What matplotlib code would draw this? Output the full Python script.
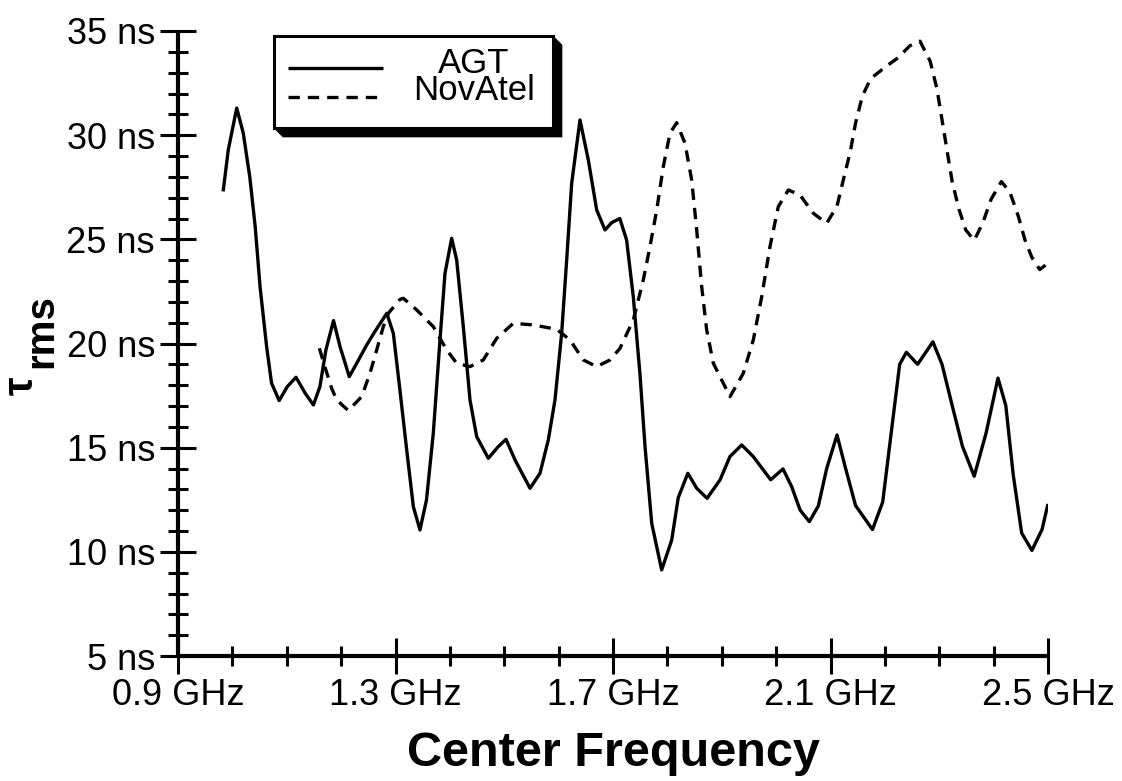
import matplotlib
matplotlib.use("Agg")
import matplotlib.pyplot as plt
from matplotlib.ticker import MultipleLocator, FixedLocator, FixedFormatter
from matplotlib.patches import Polygon, Rectangle
from matplotlib.lines import Line2D

plt.rcParams['font.family'] = ['Liberation Sans', 'DejaVu Sans']

# RMS delay spread versus center frequency
agt_freq = [0.983, 0.9925, 1.008, 1.020, 1.032, 1.042, 1.051, 1.063, 1.072, 1.086,
            1.101, 1.117, 1.134, 1.149, 1.161, 1.172, 1.186, 1.198, 1.215, 1.232,
            1.247, 1.262, 1.284, 1.296, 1.308, 1.3206, 1.3328, 1.345, 1.357, 1.3695,
            1.3818, 1.391, 1.4033, 1.4125, 1.4247, 1.437, 1.4493, 1.4707, 1.489, 1.5032,
            1.5198, 1.5474, 1.5657, 1.581, 1.5933, 1.6056, 1.6148, 1.624, 1.6393, 1.6546,
            1.67, 1.6853, 1.6975, 1.7125, 1.725, 1.7373, 1.7497, 1.7589, 1.7712, 1.7895,
            1.808, 1.820, 1.8376, 1.854, 1.873, 1.8968, 1.915, 1.9367, 1.958, 1.99,
            2.0126, 2.0286, 2.044, 2.061, 2.0776, 2.093, 2.112, 2.1274, 2.1461, 2.1772,
            2.196, 2.2116, 2.2272, 2.2396, 2.2602, 2.2883, 2.3051, 2.3238, 2.3426, 2.3643,
            2.3861, 2.408, 2.4224, 2.436, 2.4516, 2.4704, 2.489, 2.500]
agt_trms = [27.3, 29.3, 31.3, 30.1, 28.0, 25.6, 22.7, 19.85, 18.1, 17.26,
            17.93, 18.38, 17.61, 17.05, 17.93, 19.69, 21.1, 19.85, 18.41, 19.21,
            19.93, 20.57, 21.45, 20.49, 17.8, 14.89, 12.17, 11.05, 12.49, 15.69,
            20.17, 23.37, 25.05, 24.01, 20.81, 17.29, 15.53, 14.49, 15.05, 15.40,
            14.41, 13.05, 13.77, 15.37, 17.29, 20.49, 24.01, 27.69, 30.73, 28.81,
            26.41, 25.45, 25.8, 26.0, 24.97, 22.25, 18.5, 15.05, 11.37, 9.13,
            10.57, 12.6, 13.77, 13.05, 12.57, 13.45, 14.57, 15.13, 14.57, 13.46,
            13.98, 13.13, 12.01, 11.45, 12.2, 14.0, 15.61, 14.04, 12.22, 11.07,
            12.39, 15.70, 19.0, 19.58, 19.0, 20.08, 19.0, 17.02, 15.07, 13.63,
            15.70, 18.34, 17.02, 13.71, 10.90, 10.07, 11.07, 12.3]

novatel_freq = [1.160, 1.170, 1.1826, 1.1918, 1.2132, 1.2378, 1.2531, 1.2654, 1.2776, 1.2868,
                1.3083, 1.3144, 1.339, 1.3695, 1.3942, 1.4125, 1.437, 1.4615, 1.4861, 1.5167,
                1.5535, 1.5965, 1.6209, 1.6454, 1.67, 1.6945, 1.7129, 1.7373, 1.7465, 1.7557,
                1.768, 1.7804, 1.7925, 1.8048, 1.8171, 1.8324, 1.8447, 1.8539, 1.8631, 1.8723,
                1.8845, 1.9152, 1.9396, 1.958, 1.9735, 1.9887, 2.004, 2.0224, 2.0439, 2.0684,
                2.093, 2.112, 2.1243, 2.1367, 2.146, 2.1587, 2.1741, 2.2022, 2.2241, 2.2459,
                2.2646, 2.2833, 2.2957, 2.3051, 2.3144, 2.3238, 2.3363, 2.3488, 2.3643, 2.3799,
                2.3955, 2.4143, 2.4298, 2.4454, 2.4579, 2.4704, 2.4848, 2.4952]
novatel_trms = [19.77, 18.89, 17.85, 17.29, 16.78, 17.45, 18.57, 19.69, 20.81, 21.45,
                22.12, 22.17, 21.61, 20.81, 19.69, 19.05, 18.89, 19.21, 20.25, 20.97,
                20.89, 20.68, 20.17, 19.21, 18.89, 19.21, 19.77, 21.13, 22.09, 23.05,
                24.65, 26.41, 28.49, 30.09, 30.60, 29.61, 27.85, 25.45, 22.73, 20.65,
                19.05, 17.45, 18.57, 20.17, 22.25, 24.65, 26.57, 27.37, 27.13, 26.25,
                25.77, 26.6, 27.93, 29.25, 30.57, 31.89, 32.72, 33.30, 33.71, 34.29,
                34.51, 33.55, 32.23, 30.74, 29.25, 27.77, 26.44, 25.45, 24.95, 25.78,
                26.93, 27.77, 27.27, 26.11, 24.95, 24.13, 23.55, 23.76]

freq_ticks = [0.9, 1.3, 1.7, 2.1, 2.5]
freq_labels = ['0.9 GHz', '1.3 GHz', '1.7 GHz', '2.1 GHz', '2.5 GHz']
trms_ticks = [5, 10, 15, 20, 25, 30, 35]
trms_labels = ['5 ns', '10 ns', '15 ns', '20 ns', '25 ns', '30 ns', '35 ns']
series_names = ['AGT', 'NovAtel']

W, H = 1122, 781
fig = plt.figure(figsize=(W / 100, H / 100), dpi=100)
ax = fig.add_axes([178 / W, 125 / H, 870 / W, 625 / H])


def fpos(x, y):
    """Pixel position (from top-left) to figure fraction."""
    return (x / W, 1 - y / H)


lw = 2.4
ax.plot(agt_freq, agt_trms, color='black', lw=lw, solid_joinstyle='round',
        solid_capstyle='butt', label=series_names[0])
dashed, = ax.plot(novatel_freq, novatel_trms, color='black', lw=lw,
                  dash_capstyle='butt', dash_joinstyle='round',
                  label=series_names[1])
dashed.set_dashes([3.4, 2.4])

ax.set_xlim(0.9, 2.5)
ax.set_ylim(5, 35)
for side in ('top', 'right'):
    ax.spines[side].set_visible(False)
for side in ('left', 'bottom'):
    ax.spines[side].set_linewidth(3.0)
    ax.spines[side].set_capstyle('butt')

ax.xaxis.set_major_locator(FixedLocator(freq_ticks))
ax.xaxis.set_major_formatter(FixedFormatter(freq_labels))
ax.xaxis.set_minor_locator(MultipleLocator(0.1))
ax.yaxis.set_major_locator(FixedLocator(trms_ticks))
ax.yaxis.set_major_formatter(FixedFormatter(trms_labels))
ax.yaxis.set_minor_locator(MultipleLocator(1))

ax.tick_params(which='major', direction='inout', length=26, width=2.2,
               labelsize=26, color='black')
ax.tick_params(which='minor', direction='inout', length=14.4, width=2.2)
ax.tick_params(axis='y', which='major', pad=3.6)
ax.tick_params(axis='x', which='major', pad=2.5)
for t in ax.get_xticklabels() + ax.get_yticklabels():
    t.set_clip_on(False)

ax.set_xlabel('Center Frequency', fontsize=35, fontweight='bold')
ax.xaxis.set_label_coords(0.5, -(731 - 656) / 625)

# y label: tau with subscript "rms"
fig.text(*fpos(33, 386), '\u03c4', fontsize=30, fontweight='bold', rotation=90,
         rotation_mode='anchor', ha='center', va='baseline')
fig.text(*fpos(52, 331), 'rms', fontsize=29, fontweight='bold', rotation=90,
         rotation_mode='anchor', ha='center', va='baseline')

# legend box with a bevelled drop shadow
shadow = Polygon([fpos(274, 128), fpos(283, 137), fpos(562, 137), fpos(562, 45),
                  fpos(553, 36), fpos(553, 128)], closed=True,
                 transform=fig.transFigure, facecolor='black', edgecolor='black',
                 lw=0.5, zorder=5)
x0, y0 = fpos(274, 128)
x1, y1 = fpos(553, 36)
box = Rectangle((x0, y0), x1 - x0, y1 - y0, transform=fig.transFigure,
                facecolor='white', edgecolor='black', lw=2.2, zorder=6)
fig.add_artist(shadow)
fig.add_artist(box)

sx0, _ = fpos(288, 0)
sx1, _ = fpos(383, 0)
_, ya = fpos(0, 68)
_, yb = fpos(0, 97)
fig.add_artist(Line2D([sx0, sx1], [ya, ya], transform=fig.transFigure,
                      color='black', lw=lw, solid_capstyle='butt', zorder=7))
leg_dash = Line2D([sx0, sx1], [yb, yb], transform=fig.transFigure,
                  color='black', lw=lw, dash_capstyle='butt', zorder=7)
leg_dash.set_dashes([3.4, 2.4])
fig.add_artist(leg_dash)
fig.text(*fpos(474, 100), '\n'.join(series_names), fontsize=25, ha='center',
         va='baseline', multialignment='center', linespacing=0.78, zorder=8)

fig.savefig('out.png', dpi=100)
